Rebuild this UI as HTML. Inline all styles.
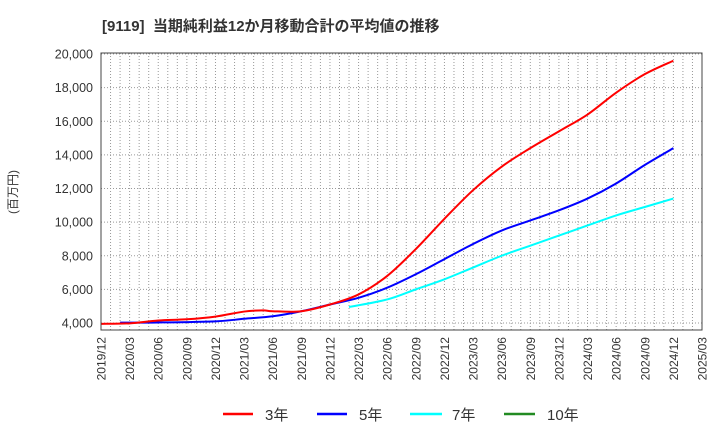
<!DOCTYPE html>
<html><head><meta charset="utf-8"><style>
body{margin:0;background:#fff;font-family:"Liberation Sans","Noto Sans CJK JP",sans-serif;}
svg text{font-family:"Liberation Sans","Noto Sans CJK JP",sans-serif;}
</style></head><body>
<svg id="c" width="720" height="440" xmlns="http://www.w3.org/2000/svg">
<text x="102" y="31" font-size="15" font-weight="bold" fill="#333" xml:space="preserve">[9119]  当期純利益12か月移動合計の平均値の推移</text>
<text transform="translate(17,192) rotate(-90)" font-size="12" fill="#333" text-anchor="middle">(百万円)</text>
<g id="grid"></g><g id="series"></g><g id="axes"></g>
<g>
<line x1="223" y1="414" x2="253" y2="414" stroke="#f00" stroke-width="2.5"/>
<text x="265" y="420" font-size="15" fill="#333">3年</text>
<line x1="317" y1="414" x2="347" y2="414" stroke="#00f" stroke-width="2.5"/>
<text x="359" y="420" font-size="15" fill="#333">5年</text>
<line x1="410" y1="414" x2="442" y2="414" stroke="#0ff" stroke-width="2.5"/>
<text x="452" y="420" font-size="15" fill="#333">7年</text>
<line x1="504" y1="414" x2="535" y2="414" stroke="#228b22" stroke-width="2.5"/>
<text x="547" y="420" font-size="15" fill="#333">10年</text>
</g>
</svg>
<script>
const xTickLabels=["2019/12","2020/03","2020/06","2020/09","2020/12","2021/03","2021/06","2021/09","2021/12","2022/03","2022/06","2022/09","2022/12","2023/03","2023/06","2023/09","2023/12","2024/03","2024/06","2024/09","2024/12","2025/03"];
const yTicks=[4000,6000,8000,10000,12000,14000,16000,18000,20000];
// month index from 2019/12
const redMonths=[0,3,6,9,12,15,17,18,21,24,27,30,33,36,39,42,45,48,51,54,57,60];
const redValues=[3950,3980,4150,4220,4380,4680,4750,4700,4700,5100,5700,6800,8400,10200,11900,13300,14400,15400,16400,17700,18800,19600];
const blueMonths=[2,6,12,15,18,21,24,27,30,33,36,39,42,45,48,51,54,57,60];
const blueValues=[4020,4030,4100,4250,4400,4700,5100,5500,6100,6900,7800,8700,9500,10100,10700,11400,12300,13400,14400];
const cyanMonths=[26,30,33,36,39,42,45,48,51,54,57,60];
const cyanValues=[4950,5400,6000,6600,7300,8000,8600,9200,9800,10400,10900,11400];
const NS="http://www.w3.org/2000/svg";
const L=101,R=702,T=53,B=330;
const x=m=>L+(R-L)*m/63;
const y=v=>323-(v-4000)*(323-54)/16000;
function mk(tag,attrs,parent){const e=document.createElementNS(NS,tag);for(const k in attrs)e.setAttribute(k,attrs[k]);parent.appendChild(e);return e;}
const grid=document.getElementById('grid'),axes=document.getElementById('axes'),ser=document.getElementById('series');
for(let m=1;m<63;m++){const l=mk('line',{x1:x(m),x2:x(m),y1:T,y2:B,stroke:'#999','stroke-dasharray':'1,2'},grid);

}
yTicks.forEach(v=>{const l=mk('line',{x1:L,x2:R,y1:y(v),y2:y(v),stroke:'#999','stroke-dasharray':'1,2'},grid);


const t=mk('text',{x:93,y:y(v)+4.5,'font-size':12.5,fill:'#333','text-anchor':'end'},axes);t.textContent=v.toLocaleString('en-US');

});
xTickLabels.forEach((s,i)=>{const px=x(i*3);const t=mk('text',{transform:`translate(${px+4.5},337) rotate(-90)`,'font-size':12,fill:'#333','text-anchor':'end'},axes);t.textContent=s;

});
const fr=mk('rect',{x:L,y:T,width:R-L,height:B-T,fill:'none',stroke:'#444','stroke-width':1},axes);


function path(ms,vs){const p=ms.map((m,i)=>[x(m),y(vs[i])]);let d=`M${p[0][0]},${p[0][1]}`;
for(let i=0;i<p.length-1;i++){const p0=p[i-1]||p[i],p1=p[i],p2=p[i+1],p3=p[i+2]||p2;
d+=` C${p1[0]+(p2[0]-p0[0])/6},${p1[1]+(p2[1]-p0[1])/6} ${p2[0]-(p3[0]-p1[0])/6},${p2[1]-(p3[1]-p1[1])/6} ${p2[0]},${p2[1]}`;}return d;}
[[cyanMonths,cyanValues,'#0ff','series-7y'],[blueMonths,blueValues,'#00f','series-5y'],[redMonths,redValues,'#f00','series-3y']].forEach(s=>{
const e=mk('path',{d:path(s[0],s[1]),fill:'none',stroke:s[2],'stroke-width':2},ser);

});
</script>
</body></html>
